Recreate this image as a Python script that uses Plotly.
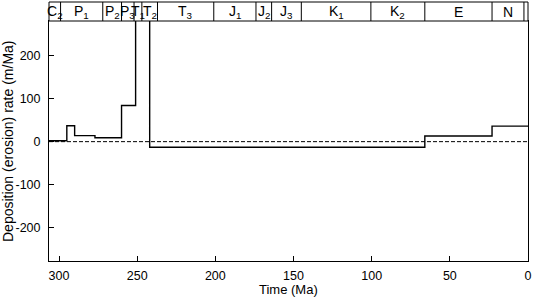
import plotly.graph_objects as go

# Step function of deposition (erosion) rate
step_edges = [306.4, 295, 290, 277, 260, 251, 242, 66, 23, 0]   # Ma
rates = [2, 37, 14, 9, 84, 400, -13, 13, 36]                     # m/Ma

# Stratigraphic period band
period_edges = [306.4, 299, 272, 260, 252, 247, 237, 201, 174, 164, 145, 100.5, 66, 23, 2.6, 0]
period_labels = ["C<sub>2</sub>", "P<sub>1</sub>", "P<sub>2</sub>", "P<sub>3</sub>", "T<sub>1</sub>",
                 "T<sub>2</sub>", "T<sub>3</sub>", "J<sub>1</sub>", "J<sub>2</sub>", "J<sub>3</sub>",
                 "K<sub>1</sub>", "K<sub>2</sub>", "E", "N", ""]

x_ticks = [300, 250, 200, 150, 100, 50, 0]
y_ticks = [-200, -100, 0, 100, 200]

FONT = "Liberation Sans, Arial, sans-serif"
W, H = 533, 299
ML, MR, MT, MB = 49, 5, 21, 38
plot_w = W - ML - MR
plot_h = H - MT - MB

xs = step_edges[:]
ys = rates + [rates[-1]]

fig = go.Figure()
fig.add_trace(go.Scatter(x=[step_edges[0], step_edges[-1]], y=[0, 0], mode="lines",
                         line=dict(color="black", width=1, dash="4px,2px"), hoverinfo="skip"))
fig.add_trace(go.Scatter(x=xs, y=ys, mode="lines", line_shape="hv",
                         line=dict(color="black", width=1.4), hoverinfo="skip"))

band_y0, band_y1 = 1.0, 1.0 + 19 / plot_h
shapes = [dict(type="rect", xref="paper", yref="paper", x0=0, x1=1, y0=band_y0, y1=band_y1,
               line=dict(color="black", width=1), fillcolor="white")]
for e in period_edges[1:-1]:
    shapes.append(dict(type="line", xref="x", yref="paper", x0=e, x1=e, y0=band_y0, y1=band_y1,
                       line=dict(color="black", width=1)))
annotations = []
for i, lab in enumerate(period_labels):
    if not lab:
        continue
    xm = (period_edges[i] + period_edges[i + 1]) / 2
    annotations.append(dict(x=xm, y=(band_y0 + band_y1) / 2, xref="x", yref="paper", text=lab,
                            showarrow=False, font=dict(family=FONT, size=14, color="black"),
                            xanchor="center", yanchor="middle"))
# Axis titles
annotations.append(dict(x=0.5, y=-(289.5 - (H - MB)) / plot_h, xref="paper", yref="paper",
                        text="Time (Ma)", showarrow=False,
                        font=dict(family=FONT, size=13, color="black"),
                        xanchor="center", yanchor="middle"))
annotations.append(dict(x=-(ML - 8) / plot_w, y=0.5, xref="paper", yref="paper",
                        text="Deposition (erosion) rate (m/Ma)", showarrow=False,
                        font=dict(family=FONT, size=14, color="black"),
                        xanchor="center", yanchor="middle", textangle=-90))

fig.update_layout(
    width=W, height=H,
    margin=dict(l=ML, r=MR, t=MT, b=MB, autoexpand=False),
    paper_bgcolor="white", plot_bgcolor="white",
    showlegend=False,
    shapes=shapes, annotations=annotations,
    font=dict(family=FONT, size=12.5, color="black"),
)
fig.update_xaxes(range=[step_edges[0], 0], tickvals=x_ticks, ticktext=[str(v) for v in x_ticks],
                 ticks="inside", ticklen=5, tickcolor="black", showline=True, linecolor="black",
                 linewidth=1, mirror=True, showgrid=False, zeroline=False, automargin=False,
                 ticklabelstandoff=3)
fig.update_yaxes(range=[-277.5, 280.5], tickvals=y_ticks, ticktext=[str(v) for v in y_ticks],
                 ticks="inside", ticklen=5, tickcolor="black", showline=True, linecolor="black",
                 linewidth=1, mirror=True, showgrid=False, zeroline=False, automargin=False,
                 ticklabelstandoff=5)

fig.write_html("out.html", config={"displayModeBar": False},
               post_script="document.body.style.margin='0';")
